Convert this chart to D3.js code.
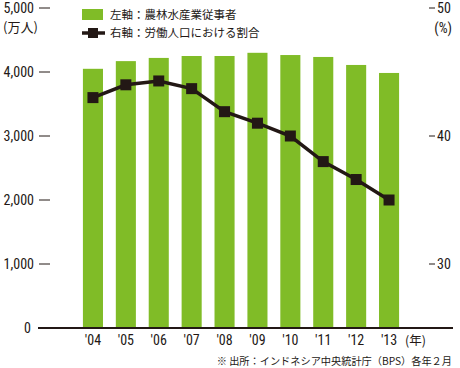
<!DOCTYPE html>
<html><head><meta charset="utf-8">
<script src="https://cdn.jsdelivr.net/npm/d3@7"></script>
<style>
html,body{margin:0;padding:0;background:#fff;}
svg{display:block;}
.num{font-family:"Liberation Sans Narrow","Arial Narrow","Roboto Condensed",sans-serif;font-size:14px;fill:#231815;}
.jp{font-family:"Noto Sans CJK JP","Noto Sans CJK SC",sans-serif;fill:#231815;}
</style></head>
<body>
<svg id="c" width="460" height="368"></svg>
<script>
const years = ["'04","'05","'06","'07","'08","'09","'10","'11","'12","'13"];
const workers = [4050, 4170, 4220, 4250, 4250, 4300, 4265, 4235, 4110, 3985];
const share = [43.0, 44.0, 44.3, 43.7, 41.9, 41.0, 40.0, 38.0, 36.6, 35.0];
const leftTicks = [0, 1000, 2000, 3000, 4000, 5000];
const rightTicks = [30, 40, 50];
const legendLabels = ["左軸：農林水産業従事者", "右軸：労働人口における割合"];

const svg = d3.select("#c");
const green = "#80bc27", dark = "#231815";
const yBase = 328, yTop = 8;

const x = d3.scaleBand().domain(years).range([76.5, 405.5]).paddingInner(0.39).paddingOuter(0.195);
const yL = d3.scaleLinear().domain([0, 5000]).range([yBase, yTop]);
const yR = d3.scaleLinear().domain([25, 50]).range([yBase, yTop]);

// bars
svg.append("g").selectAll("rect").data(workers).join("rect")
  .attr("x", (d,i) => x(years[i]))
  .attr("width", x.bandwidth())
  .attr("y", d => yL(d))
  .attr("height", d => yBase - yL(d))
  .attr("fill", green);

// baseline
svg.append("line").attr("x1", 38).attr("x2", 453).attr("y1", yBase).attr("y2", yBase)
  .attr("stroke", dark).attr("stroke-width", 2.2);

// left axis
const lg = svg.append("g");
leftTicks.forEach(t => {
  const y = yL(t);
  lg.append("text").attr("class","num").attr("x", t === 0 ? 31 : 34).attr("y", y).attr("dy","0.36em")
    .attr("text-anchor","end").text(d3.format(",")(t));
  if (t > 0) lg.append("line").attr("x1", 39).attr("x2", 50).attr("y1", y).attr("y2", y)
    .attr("stroke", dark).attr("stroke-width", 1);
});
lg.append("text").attr("class","jp").attr("x", 3).attr("y", 27).attr("dy","0.36em")
  .style("font-size","13px").text("(万人)");

// right axis
const rg = svg.append("g");
rightTicks.forEach(t => {
  const y = yR(t);
  rg.append("line").attr("x1", 429).attr("x2", 435).attr("y1", y).attr("y2", y)
    .attr("stroke", dark).attr("stroke-width", 1);
  rg.append("text").attr("class","num").attr("x", 437).attr("y", y).attr("dy","0.36em").text(t);
});
rg.append("text").attr("class","num").attr("x", 452).attr("y", 28).attr("dy","0.36em")
  .attr("text-anchor","end").text("(%)");

// x labels
svg.append("g").selectAll("text").data(years).join("text")
  .attr("class","num").attr("x", d => x(d) + x.bandwidth()/2).attr("y", 340).attr("dy","0.36em")
  .attr("text-anchor","middle").text(d => d);
svg.append("text").attr("class","jp").attr("x", 405).attr("y", 340).attr("dy","0.36em")
  .style("font-size","12.5px").text("(年)");

// line
const cx = (i) => x(years[i]) + x.bandwidth()/2;
svg.append("path").datum(share)
  .attr("d", d3.line().x((d,i) => cx(i)).y(d => yR(d)))
  .attr("fill","none").attr("stroke", dark).attr("stroke-width", 3.5);
const sq = 11;
svg.append("g").selectAll("rect").data(share).join("rect")
  .attr("x", (d,i) => cx(i) - sq/2).attr("y", d => yR(d) - sq/2)
  .attr("width", sq).attr("height", sq).attr("fill", dark);

// legend
svg.append("rect").attr("x", 82).attr("y", 9).attr("width", 21).attr("height", 11).attr("fill", green);
svg.append("line").attr("x1", 82).attr("x2", 105).attr("y1", 33).attr("y2", 33).attr("stroke", dark).attr("stroke-width", 3.5);
svg.append("rect").attr("x", 88).attr("y", 28).attr("width", 10).attr("height", 10).attr("fill", dark);
legendLabels.forEach((t,i) => {
  svg.append("text").attr("class","jp").attr("x", 110).attr("y", i === 0 ? 15 : 33).attr("dy","0.36em")
    .style("font-size","11.5px").text(t);
});

// source
svg.append("text").attr("class","jp").attr("x", 452).attr("y", 361).attr("dy","0.36em")
  .attr("text-anchor","end").style("font-size","10.2px")
  .text("※ 出所：インドネシア中央統計庁（BPS）各年２月");
</script>
</body></html>
